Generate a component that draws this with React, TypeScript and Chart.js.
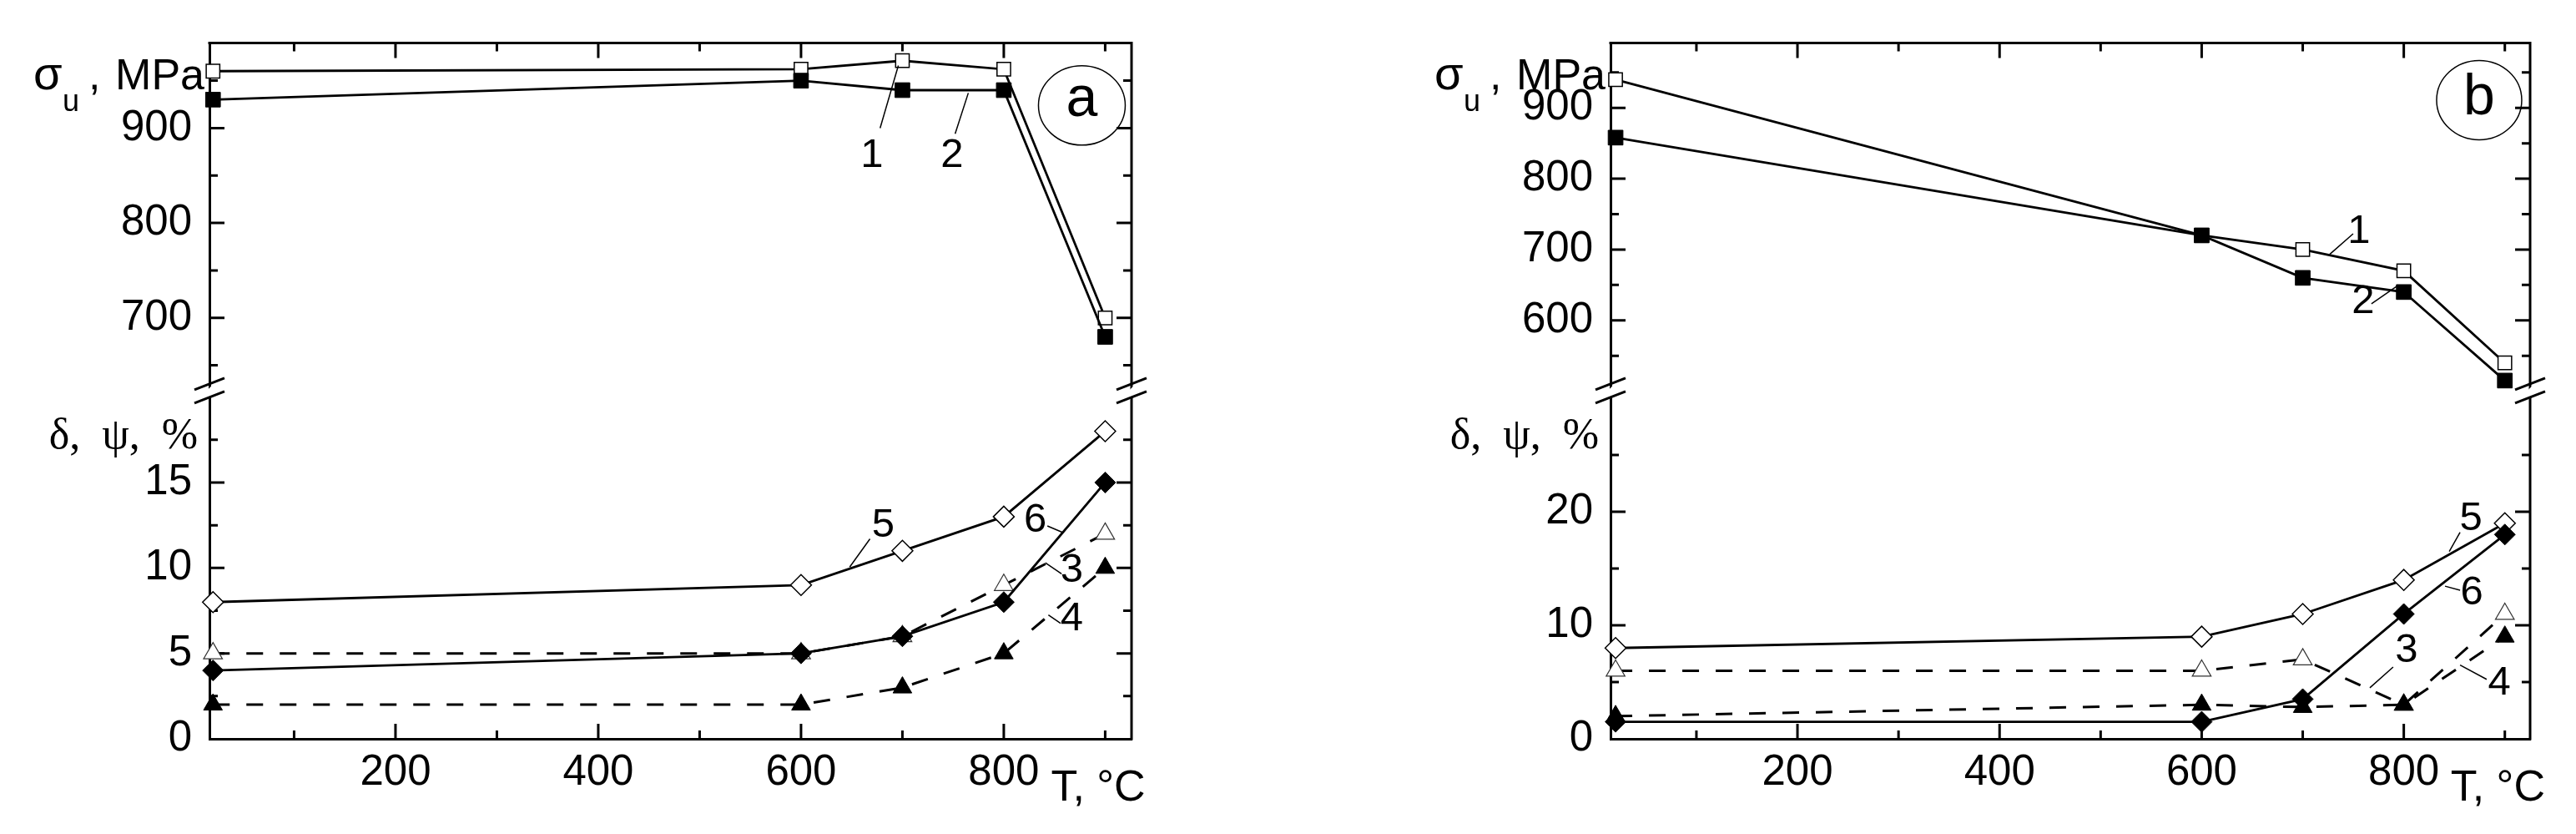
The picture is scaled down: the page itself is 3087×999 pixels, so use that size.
import React, { useEffect, useRef } from 'react';
import { Chart, registerables } from 'chart.js';

Chart.register(...registerables);
Chart.defaults.font.family = "'Liberation Sans', Arial, sans-serif";
Chart.defaults.color = '#000';

// ---------- data ----------
const temperatures = [20, 600, 700, 800, 900];

// panel a
const aStrength1 = [960, 962, 971, 962, 700];
const aStrength2 = [930, 950, 940, 940, 680];
const aCurve3 = [5, 5, 6, 9, 12];
const aCurve4 = [2, 2, 3, 5, 10];
const aCurve5 = [8, 9, 11, 13, 18];
const aCurve6 = [4, 5, 6, 8, 15];

// panel b
const bStrength1 = [940, 720, 700, 670, 540];
const bStrength2 = [858, 720, 660, 640, 515];
const bCurve3 = [6, 6, 7, 3, 11];
const bCurve4 = [2, 3, 2.8, 3, 9];
const bCurve5 = [8, 9, 11, 14, 19];
const bCurve6 = [1.5, 1.5, 3.5, 11, 18];

// ticks
const xTickLabels = [200, 400, 600, 800];
const xMinorTicks = [100, 300, 500, 700, 900];
const aTopTicks = [700, 800, 900];
const aTopMinor = [650, 750, 850, 950];
const aBottomTicks = [0, 5, 10, 15];
const aBottomMinor = [2.5, 7.5, 12.5, 17.5];
const bTopTicks = [600, 700, 800, 900];
const bTopMinor = [550, 650, 750, 850, 950];
const bBottomTicks = [0, 10, 20];
const bBottomMinor = [5, 15, 25];

// ---------- styles ----------
const FONT = "'Liberation Sans', Arial, sans-serif";
const openSquare = { pointStyle: 'rect', pointRadius: 11.5, pointBackgroundColor: '#fff', pointBorderColor: '#000', pointBorderWidth: 1.5 };
const filledSquare = { pointStyle: 'rect', pointRadius: 12.5, pointBackgroundColor: '#000', pointBorderColor: '#000', pointBorderWidth: 1 };
const openTriangle = { pointStyle: 'triangle', pointRadius: 13, pointBackgroundColor: '#fff', pointBorderColor: '#333', pointBorderWidth: 1.2 };
const filledTriangle = { pointStyle: 'triangle', pointRadius: 13, pointBackgroundColor: '#000', pointBorderColor: '#000', pointBorderWidth: 1 };
const openDiamond = { pointStyle: 'rectRot', pointRadius: 12.5, pointBackgroundColor: '#fff', pointBorderColor: '#000', pointBorderWidth: 1.5 };
const filledDiamond = { pointStyle: 'rectRot', pointRadius: 12.5, pointBackgroundColor: '#000', pointBorderColor: '#000', pointBorderWidth: 1 };

function series(values: number[], axis: string, marker: any, dashed: boolean) {
  return {
    data: temperatures.map((t, i) => ({ x: t, y: values[i] })),
    yAxisID: axis,
    borderColor: '#000',
    borderWidth: dashed ? 3 : 2.8,
    borderDash: dashed ? [20, 20] : [],
    tension: 0,
    fill: false,
    clip: false,
    ...marker,
  };
}

type Label = { t: string; x: number; y: number; ax: string };
type Leader = { ax: string; x0: number; y0: number; x1: number; y1: number };

type Panel = {
  key: string;
  left: number;
  width: number;
  axisWidth: number;
  padRight: number;
  xMin: number;
  xMax: number;
  topMin: number;
  topMax: number;
  botMax: number;
  topTicks: number[];
  topMinor: number[];
  botTicks: number[];
  botMinor: number[];
  s: number[][];
  labels: Label[];
  leaders: Leader[];
  circle: { t: string; x: number; y: number; rx: number; ry: number; dy: number };
};

const panelA: Panel = {
  key: 'a',
  left: 0,
  width: 1560,
  axisWidth: 251,
  padRight: 204,
  xMin: 16.5,
  xMax: 926,
  topMin: 624.3,
  topMax: 989.6,
  botMax: 20.43,
  topTicks: aTopTicks,
  topMinor: aTopMinor,
  botTicks: aBottomTicks,
  botMinor: aBottomMinor,
  s: [aStrength1, aStrength2, aCurve3, aCurve4, aCurve5, aCurve6],
  labels: [
    { t: '1', x: 670, y: 871, ax: 'yTop' },
    { t: '2', x: 749, y: 871, ax: 'yTop' },
    { t: '5', x: 681, y: 12.46, ax: 'yBot' },
    { t: '6', x: 831, y: 12.8, ax: 'yBot' },
    { t: '3', x: 867, y: 9.86, ax: 'yBot' },
    { t: '4', x: 867, y: 7.0, ax: 'yBot' },
  ],
  leaders: [
    { ax: 'yTop', x0: 678, y0: 900, x1: 696, y1: 966 },
    { ax: 'yTop', x0: 752, y0: 894, x1: 765, y1: 937 },
    { ax: 'yBot', x0: 648, y0: 10.05, x1: 668, y1: 11.7 },
    { ax: 'yBot', x0: 843, y0: 12.46, x1: 858, y1: 12.08 },
    { ax: 'yBot', x0: 841, y0: 10.3, x1: 857, y1: 9.66 },
    { ax: 'yBot', x0: 844, y0: 7.25, x1: 856, y1: 6.76 },
  ],
  circle: { t: 'a', x: 877, y: 923.9, rx: 52, ry: 47.5, dy: 13 },
};

const panelB: Panel = {
  key: 'b',
  left: 1560,
  width: 1527,
  axisWidth: 370,
  padRight: 55,
  xMin: 15,
  xMax: 925,
  topMin: 502.1,
  topMax: 991.5,
  botMax: 30.76,
  topTicks: bTopTicks,
  topMinor: bTopMinor,
  botTicks: bBottomTicks,
  botMinor: bBottomMinor,
  s: [bStrength1, bStrength2, bCurve3, bCurve4, bCurve5, bCurve6],
  labels: [
    { t: '1', x: 755.6, y: 725.8, ax: 'yTop' },
    { t: '2', x: 759.7, y: 626.8, ax: 'yTop' },
    { t: '5', x: 866.4, y: 19.42, ax: 'yBot' },
    { t: '6', x: 867.2, y: 12.87, ax: 'yBot' },
    { t: '3', x: 802.7, y: 7.78, ax: 'yBot' },
    { t: '4', x: 894.5, y: 4.87, ax: 'yBot' },
  ],
  leaders: [
    { ax: 'yTop', x0: 726.7, y0: 693.2, x1: 749.9, y1: 722.3 },
    { ax: 'yTop', x0: 768, y0: 623.3, x1: 792.8, y1: 647.8 },
    { ax: 'yBot', x0: 845, y0: 16.5, x1: 855.7, y1: 18.2 },
    { ax: 'yBot', x0: 840.8, y0: 13.45, x1: 855.7, y1: 13.1 },
    { ax: 'yBot', x0: 789.5, y0: 6.33, x1: 766.4, y1: 4.5 },
    { ax: 'yBot', x0: 882, y0: 5.24, x1: 855.7, y1: 6.5 },
  ],
  circle: { t: 'b', x: 874.6, y: 911, rx: 51, ry: 47.5, dy: 17 },
};

function framePlugin(p: Panel) {
  return {
    id: 'frame_' + p.key,
    beforeDatasetsDraw(chart: any) {
      const { ctx, chartArea: ca, scales } = chart;
      const xs = scales.x;
      const yt = scales.yTop;
      const yb = scales.yBot;
      ctx.save();
      ctx.strokeStyle = '#000';
      ctx.lineCap = 'butt';
      ctx.lineWidth = 3;
      ctx.beginPath();
      ctx.moveTo(ca.left - 1.5, ca.top);
      ctx.lineTo(ca.right + 1.5, ca.top);
      ctx.moveTo(ca.right, ca.top);
      ctx.lineTo(ca.right, ca.bottom + 1.5);
      ctx.stroke();
      ctx.lineWidth = 3;
      ctx.beginPath();
      const vTicks = (scale: any, vals: number[], len: number) => {
        for (const v of vals) {
          const py = scale.getPixelForValue(v);
          ctx.moveTo(ca.left, py);
          ctx.lineTo(ca.left + len, py);
          ctx.moveTo(ca.right, py);
          ctx.lineTo(ca.right - len, py);
        }
      };
      const hTicks = (vals: number[], len: number) => {
        for (const v of vals) {
          const px = xs.getPixelForValue(v);
          ctx.moveTo(px, ca.bottom);
          ctx.lineTo(px, ca.bottom - len);
          ctx.moveTo(px, ca.top);
          ctx.lineTo(px, ca.top + len);
        }
      };
      vTicks(yt, p.topTicks, 18);
      vTicks(yt, p.topMinor, 10);
      vTicks(yb, p.botTicks.filter((v) => v > 0), 18);
      vTicks(yb, p.botMinor, 10);
      hTicks(xTickLabels, 18);
      hTicks(xMinorTicks, 10);
      ctx.stroke();
      ctx.restore();
    },
    afterDraw(chart: any) {
      const { ctx, chartArea: ca, scales } = chart;
      const xs = scales.x;
      const yt = scales.yTop;
      ctx.save();
      // axis breaks
      const yBreak = yt.bottom;
      for (const x0 of [ca.left, ca.right]) {
        ctx.fillStyle = '#fff';
        ctx.beginPath();
        ctx.moveTo(x0 - 4, yBreak + 2);
        ctx.lineTo(x0 + 4, yBreak - 6);
        ctx.lineTo(x0 + 4, yBreak + 7);
        ctx.lineTo(x0 - 4, yBreak + 13);
        ctx.closePath();
        ctx.fill();
        ctx.strokeStyle = '#000';
        ctx.lineWidth = 3;
        ctx.beginPath();
        ctx.moveTo(x0 - 18, yBreak + 0);
        ctx.lineTo(x0 + 18, yBreak - 14);
        ctx.moveTo(x0 - 18, yBreak + 16);
        ctx.lineTo(x0 + 18, yBreak + 2);
        ctx.stroke();
      }

      ctx.fillStyle = '#000';
      // y title top: sigma_u, MPa
      ctx.textBaseline = 'alphabetic';
      ctx.textAlign = 'left';
      ctx.font = `52px ${FONT}`;
      const wM = ctx.measureText('MPa').width;
      const xM = ca.left - 6 - wM;
      const base = ca.top + 55;
      ctx.fillText('MPa', xM, base);
      ctx.font = `56px ${FONT}`;
      ctx.fillText('σ', xM - 98, base);
      ctx.font = `52px ${FONT}`;
      ctx.fillText(',', xM - 32, base);
      ctx.font = `36px ${FONT}`;
      ctx.fillText('u', xM - 63, base + 26);

      // y title bottom
      ctx.font = `52px 'Liberation Serif', 'DejaVu Serif', serif`;
      ctx.textAlign = 'right';
      ctx.fillText('δ,  ψ,  %', ca.left - 14, ca.top + 485);

      // x title
      ctx.font = `52px ${FONT}`;
      ctx.textAlign = 'left';
      ctx.fillText('T, °C', xs.getPixelForValue(900) - 65, ca.bottom + 74);

      // leaders
      ctx.strokeStyle = '#000';
      ctx.lineWidth = 1.5;
      ctx.beginPath();
      for (const l of p.leaders) {
        const s = scales[l.ax];
        ctx.moveTo(xs.getPixelForValue(l.x0), s.getPixelForValue(l.y0));
        ctx.lineTo(xs.getPixelForValue(l.x1), s.getPixelForValue(l.y1));
      }
      ctx.stroke();

      // curve numbers
      ctx.font = `49px ${FONT}`;
      ctx.textAlign = 'center';
      ctx.textBaseline = 'middle';
      for (const lb of p.labels) {
        const s = scales[lb.ax];
        ctx.fillText(lb.t, xs.getPixelForValue(lb.x), s.getPixelForValue(lb.y));
      }

      // panel letter in ellipse
      const c = p.circle;
      const cx = xs.getPixelForValue(c.x);
      const cy = yt.getPixelForValue(c.y);
      ctx.lineWidth = 1.5;
      ctx.beginPath();
      ctx.ellipse(cx, cy, c.rx, c.ry, 0, 0, Math.PI * 2);
      ctx.stroke();
      ctx.font = `68px ${FONT}`;
      ctx.textBaseline = 'alphabetic';
      ctx.fillText(c.t, cx, cy + c.dy);
      ctx.restore();
    },
  };
}

function makeConfig(p: Panel): any {
  const [s1, s2, s3, s4, s5, s6] = p.s;
  const tickFont = { size: 51, family: FONT };
  return {
    type: 'line',
    data: {
      datasets: [
        series(s2, 'yTop', filledSquare, false),
        series(s1, 'yTop', openSquare, false),
        series(s6, 'yBot', filledDiamond, false),
        series(s5, 'yBot', openDiamond, false),
        series(s4, 'yBot', filledTriangle, true),
        series(s3, 'yBot', openTriangle, true),
      ],
    },
    options: {
      animation: false,
      responsive: false,
      devicePixelRatio: 1,
      events: [],
      layout: { padding: { top: 42, left: 0, right: p.padRight, bottom: 34 } },
      plugins: { legend: { display: false }, tooltip: { enabled: false } },
      scales: {
        x: {
          type: 'linear',
          position: 'bottom',
          min: p.xMin,
          max: p.xMax,
          grid: { display: false, drawTicks: false },
          border: { display: true, color: '#000', width: 3 },
          ticks: { font: tickFont, color: '#000', padding: 10, maxRotation: 0, autoSkip: false },
          afterBuildTicks: (s: any) => {
            s.ticks = xTickLabels.map((v) => ({ value: v }));
          },
          afterFit: (s: any) => {
            s.height = 80;
          },
        },
        yTop: {
          type: 'linear',
          position: 'left',
          stack: 'y',
          stackWeight: 420,
          weight: 2,
          min: p.topMin,
          max: p.topMax,
          grid: { display: false, drawTicks: false },
          border: { display: true, color: '#000', width: 3 },
          ticks: { font: tickFont, color: '#000', padding: 21, autoSkip: false },
          afterBuildTicks: (s: any) => {
            s.ticks = p.topTicks.map((v) => ({ value: v }));
          },
          afterFit: (s: any) => {
            s.width = p.axisWidth;
          },
        },
        yBot: {
          type: 'linear',
          position: 'left',
          stack: 'y',
          stackWeight: 423,
          weight: 1,
          min: 0,
          max: p.botMax,
          grid: { display: false, drawTicks: false },
          border: { display: true, color: '#000', width: 3 },
          ticks: { font: tickFont, color: '#000', padding: 21, autoSkip: false },
          afterBuildTicks: (s: any) => {
            s.ticks = p.botTicks.map((v) => ({ value: v }));
          },
          afterFit: (s: any) => {
            s.width = p.axisWidth;
          },
        },
      },
    },
    plugins: [framePlugin(p)],
  };
}

function PanelChart({ panel }: { panel: Panel }) {
  const ref = useRef<HTMLCanvasElement>(null);
  useEffect(() => {
    const chart = new Chart(ref.current as HTMLCanvasElement, makeConfig(panel));
    return () => chart.destroy();
  }, [panel]);
  return (
    <canvas
      ref={ref}
      width={panel.width}
      height={999}
      style={{ position: 'absolute', left: panel.left, top: 0, width: panel.width, height: 999 }}
    />
  );
}

export default function App() {
  return (
    <div
      style={{
        position: 'absolute',
        left: 0,
        top: 0,
        width: 3087,
        height: 999,
        background: '#fff',
        overflow: 'hidden',
      }}
    >
      <PanelChart panel={panelA} />
      <PanelChart panel={panelB} />
    </div>
  );
}
